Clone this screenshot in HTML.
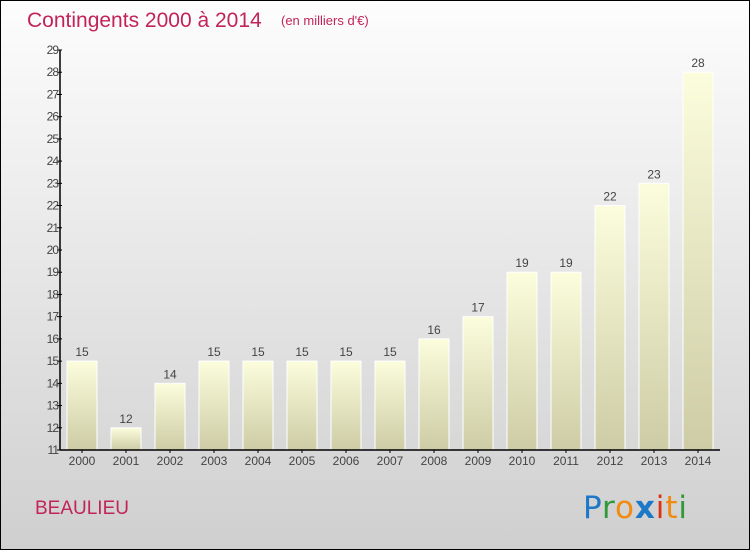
<!DOCTYPE html>
<html><head><meta charset="utf-8"><style>
body{margin:0}
svg{display:block;font-family:"Liberation Sans",sans-serif}
</style></head><body>
<svg id="c" width="750" height="550" viewBox="0 0 750 550" xmlns="http://www.w3.org/2000/svg">
<defs>
<linearGradient id="bg" x1="0" y1="0" x2="0" y2="1"><stop offset="0" stop-color="#fdfdfd"/><stop offset="1" stop-color="#cfcfcf"/></linearGradient>
<linearGradient id="bar" x1="0" y1="0" x2="0" y2="1"><stop offset="0" stop-color="#fcfddc"/><stop offset="1" stop-color="#cdcca6"/></linearGradient>
</defs>
<rect x="0.5" y="0.5" width="749" height="549" fill="url(#bg)" stroke="#000"/>
<text x="27" y="27" font-size="21" fill="#c2245a">Contingents 2000 à 2014</text>
<text x="281" y="25" font-size="13" fill="#c2245a">(en milliers d'€)</text>
<text x="35" y="514" font-size="19" fill="#c2245a">BEAULIEU</text>
<g font-size="31" font-family="'DejaVu Sans',sans-serif">
<text x="583" y="518" textLength="104"><tspan fill="#1e78c8">P</tspan><tspan fill="#2e9a3a">r</tspan><tspan fill="#f08a10">o</tspan><tspan fill="#1e78c8" font-weight="bold">x</tspan><tspan fill="#e03010">i</tspan><tspan fill="#f08a10">t</tspan><tspan fill="#2e9a3a">i</tspan></text>
</g>
<g id="plot"></g>
</svg>
<script>
const categories=["2000","2001","2002","2003","2004","2005","2006","2007","2008","2009","2010","2011","2012","2013","2014"];
const values=[15,12,14,15,15,15,15,15,16,17,19,19,22,23,28];
const yTicks=[11,12,13,14,15,16,17,18,19,20,21,22,23,24,25,26,27,28,29];
const yMin=11,yMax=29;
const NS="http://www.w3.org/2000/svg";
const g=document.getElementById('plot');
const x0=60,x1=720,yTop=50,yBot=450;
function y(v){return yBot-(v-yMin)/(yMax-yMin)*(yBot-yTop);}
const step=(x1-x0)/categories.length;
function xc(i){return x0+step*(i+0.5);}
function mk(t,a,txt){const e=document.createElementNS(NS,t);for(const k in a)e.setAttribute(k,a[k]);if(txt!==undefined)e.textContent=txt;g.appendChild(e);return e;}
values.forEach((v,i)=>{
 const r=mk('rect',{x:xc(i)-15,y:y(v),width:30,height:yBot-y(v),fill:'url(#bar)',stroke:'#fff','stroke-width':1});
 
 
 const t=mk('text',{x:xc(i),y:y(v)-5,'text-anchor':'middle','font-size':12,fill:'#444'},String(v));
 
 
 const c=mk('text',{x:xc(i),y:yBot+15,'text-anchor':'middle','font-size':12,fill:'#444'},categories[i]);
 
 
 const tk=mk('line',{x1:xc(i),x2:xc(i),y1:yBot,y2:yBot+3,stroke:'#000'});
 
 
});
yTicks.forEach(v=>{
 const l=mk('line',{x1:x0-3,x2:x0+2,y1:y(v),y2:y(v),stroke:'#000'});
 
 
 const t=mk('text',{x:x0-2,y:y(v)+4,'text-anchor':'end','font-size':12,fill:'#444','letter-spacing':'-1'},String(v));
 
 
});
const ya=mk('line',{x1:x0,x2:x0,y1:yTop,y2:yBot,stroke:'#000','stroke-width':1.5});


const xa=mk('line',{x1:x0,x2:x1,y1:yBot,y2:yBot,stroke:'#000','stroke-width':1.5});


</script>
</body></html>
